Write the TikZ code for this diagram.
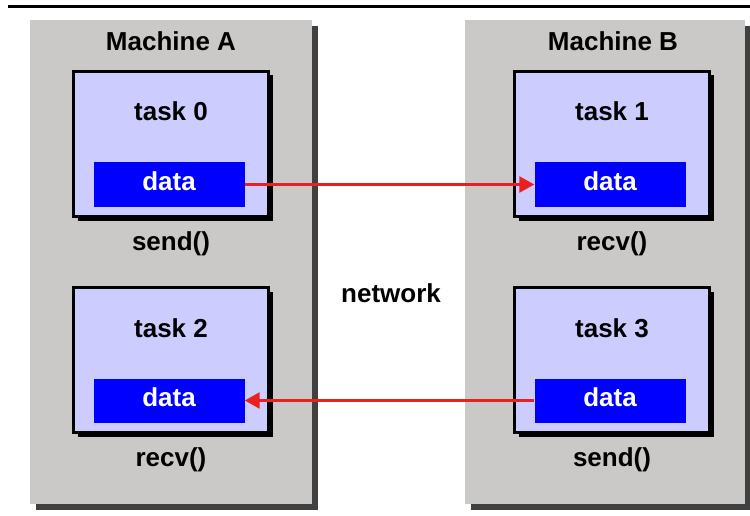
\documentclass[tikz,border=0pt]{standalone}
\usepackage{fontspec}
\setmainfont{Liberation Sans}
\usetikzlibrary{shadows,arrows.meta}
\definecolor{machinegray}{RGB}{203,201,199}
\definecolor{tasklilac}{RGB}{204,204,255}
\definecolor{msgred}{RGB}{232,32,32}

\begin{document}
\begin{tikzpicture}[x=1pt, y=-1pt,
  every node/.style = {font=\fontsize{26}{30}\selectfont\bfseries, inner sep=0pt},
  machine/.style = {rectangle, fill=machinegray, minimum height=484pt,
    drop shadow={shadow xshift=6pt, shadow yshift=-6pt, fill=black!75, opacity=1}},
  task/.style = {rectangle, draw=black, line width=3pt, fill=tasklilac,
    minimum width=195pt, minimum height=145pt,
    drop shadow={shadow xshift=4pt, shadow yshift=-4pt, fill=black, opacity=1}},
  databox/.style = {rectangle, fill=blue, text=white, text depth=7pt,
    minimum width=151pt, minimum height=44pt},
  msg/.style = {draw=msgred, line width=2.5pt, -{Triangle[length=15pt,width=16pt]}}]
  \useasboundingbox (0,0) rectangle (750,516);
  \draw[line width=3pt] (8,7) -- (750,7);
  % the two machines
  \node[machine, minimum width=282pt] (machA) at (171,262) {};
  \node[machine, minimum width=280pt] (machB) at (605,262) {};
  \node[anchor=base] (nameA) at (171,51) {Machine A};
  \node[anchor=base] (nameB) at (613,51) {Machine B};
  \node[anchor=base] (net) at (391,302) {network};
  % tasks
  \foreach \n/\x/\y/\call in {0/171/144/send(), 1/612/144/recv(),
                              2/171/360/recv(), 3/612/360/send()} {
    \node[task] (task\n) at (\x,\y) {};
    \node[anchor=base] (title\n) at (\x,\y-23) {task \n};
    \node[databox] (data\n) at (\x-2,\y+40.5) {data};
    \node[anchor=base] (call\n) at (\x,\y+106) {\call};
  }
  \draw[msg] (data0.east) -- (data1.west);
  \draw[msg] (data3.west) -- (data2.east);
\end{tikzpicture}
\end{document}
